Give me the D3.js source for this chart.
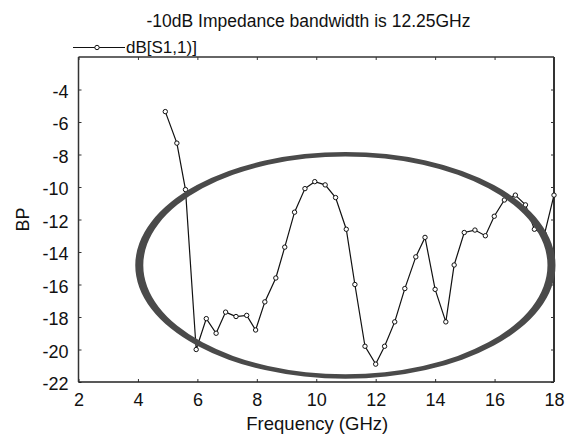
<!DOCTYPE html>
<html><head><meta charset="utf-8">
<script src="https://cdn.jsdelivr.net/npm/d3@7"></script>
<style>
html,body{margin:0;padding:0;background:#fff;}
svg text{font-family:"Liberation Sans",Arial,sans-serif;fill:#111;}
</style></head>
<body><svg id="c" width="572" height="439"></svg>
<script>
const freq = [4.92,5.31,5.6,5.96,6.3,6.63,6.95,7.3,7.66,7.96,8.27,8.64,8.94,9.27,9.62,9.95,10.3,10.65,11.01,11.3,11.64,12.0,12.3,12.64,12.98,13.35,13.66,14.0,14.36,14.64,14.98,15.34,15.69,15.99,16.33,16.7,17.04,17.34,17.68,18.0];
const s11 = [-5.36,-7.3,-10.16,-20.0,-18.1,-19.0,-17.7,-17.97,-17.9,-18.8,-17.07,-15.6,-13.7,-11.55,-10.1,-9.67,-9.87,-10.65,-12.6,-16.0,-19.8,-20.9,-19.8,-18.3,-16.25,-14.3,-13.1,-16.3,-18.3,-14.8,-12.8,-12.65,-13.0,-11.8,-10.8,-10.5,-11.1,-12.6,-12.9,-10.5];
const xTicks = [2,4,6,8,10,12,14,16,18];
const yTicks = [-22,-20,-18,-16,-14,-12,-10,-8,-6,-4];
const seriesName = "dB[S1,1)]";
const titleText = "-10dB Impedance bandwidth is 12.25GHz";
const xLabel = "Frequency (GHz)";
const yLabel = "BP";
const ellipseCenter = [10.98, -14.82];
const ellipseOuter = [7.07, 6.98];
const ellipseInner = [6.80, 6.70];

const W = 572, H = 439;
const m = {l:78.5, r:18, t:57, b:57};
const svg = d3.select("#c");
const x = d3.scaleLinear().domain([2,18]).range([m.l, W-m.r]);
const y = d3.scaleLinear().domain([-22,-2]).range([H-m.b, m.t]);

// axes
const gx = svg.append("g").attr("transform",`translate(0,${H-m.b})`)
  .call(d3.axisBottom(x).tickValues(xTicks).tickSize(-3).tickPadding(10).tickFormat(d3.format("d")));
const gxt = svg.append("g").attr("transform",`translate(0,${m.t})`)
  .call(d3.axisTop(x).tickValues(xTicks).tickSize(-3).tickFormat(""));
const gy = svg.append("g").attr("transform",`translate(${m.l},0)`)
  .call(d3.axisLeft(y).tickValues(yTicks).tickSize(-3).tickPadding(10).tickFormat(d => d));
const gyr = svg.append("g").attr("transform",`translate(${W-m.r},0)`)
  .call(d3.axisRight(y).tickValues(yTicks).tickSize(-3).tickFormat(""));
[gx,gxt,gy,gyr].forEach(g=>{
  g.select(".domain").remove();
  g.selectAll(".tick line").attr("stroke","#333").attr("stroke-width",1);
  g.selectAll(".tick text").attr("font-size",18).attr("font-family","Liberation Sans, Arial, sans-serif").attr("fill","#111");
});
gy.selectAll(".tick text").attr("dy","0.42em");
gx.selectAll(".tick text").attr("dy","0.75em");

// frame
svg.append("line").attr("x1",m.l).attr("x2",W-m.r).attr("y1",m.t).attr("y2",m.t).attr("stroke","#333").attr("stroke-width",1.5);
svg.append("line").attr("x1",m.l).attr("x2",W-m.r).attr("y1",H-m.b).attr("y2",H-m.b).attr("stroke","#222").attr("stroke-width",1.5);
svg.append("line").attr("x1",m.l).attr("x2",m.l).attr("y1",m.t).attr("y2",H-m.b).attr("stroke","#333").attr("stroke-width",1.5);
svg.append("line").attr("x1",W-m.r).attr("x2",W-m.r).attr("y1",m.t).attr("y2",H-m.b).attr("stroke","#333").attr("stroke-width",2);

// series
const data = freq.map((f,i)=>({f, v:s11[i]}));
svg.append("path").datum(data)
  .attr("fill","none").attr("stroke","#111").attr("stroke-width",1.2)
  .attr("d", d3.line().x(d=>x(d.f)).y(d=>y(d.v)));
svg.append("g").selectAll("circle").data(data).join("circle")
  .attr("cx",d=>x(d.f)).attr("cy",d=>y(d.v)).attr("r",2.2)
  .attr("fill","#fff").attr("stroke","#111").attr("stroke-width",1);

// ellipse annotation (ring, thicker at the sides)
function ellPath(cx, cy, rx, ry){
  return `M${cx-rx},${cy} A${rx},${ry} 0 1,0 ${cx+rx},${cy} A${rx},${ry} 0 1,0 ${cx-rx},${cy} Z`;
}
const ecx = x(ellipseCenter[0]), ecy = y(ellipseCenter[1]);
const orx = x(ellipseCenter[0]+ellipseOuter[0]) - ecx, ory = ecy - y(ellipseCenter[1]+ellipseOuter[1]);
const irx = x(ellipseCenter[0]+ellipseInner[0]) - ecx, iry = ecy - y(ellipseCenter[1]+ellipseInner[1]);
svg.append("path")
  .attr("d", ellPath(ecx,ecy,orx,ory) + " " + ellPath(ecx,ecy,irx,iry))
  .attr("fill","#4a4a4a").attr("fill-rule","evenodd");

// title
svg.append("text").attr("x",308.5).attr("y",27).attr("text-anchor","middle").attr("font-size",17.5).text(titleText);
// legend
svg.append("line").attr("x1",73).attr("x2",125).attr("y1",47.5).attr("y2",47.5).attr("stroke","#111").attr("stroke-width",1.2);
svg.append("circle").attr("cx",97).attr("cy",47.5).attr("r",2.2).attr("fill","#fff").attr("stroke","#111");
svg.append("text").attr("x",126).attr("y",53).attr("font-size",17).text(seriesName);
// axis titles
svg.append("text").attr("x",(m.l+W-m.r)/2+1).attr("y",430).attr("text-anchor","middle").attr("font-size",18.5).text(xLabel);
svg.append("text").attr("transform",`translate(29,${(m.t+H-m.b)/2}) rotate(-90)`).attr("text-anchor","middle").attr("font-size",18).text(yLabel);
</script></body></html>
